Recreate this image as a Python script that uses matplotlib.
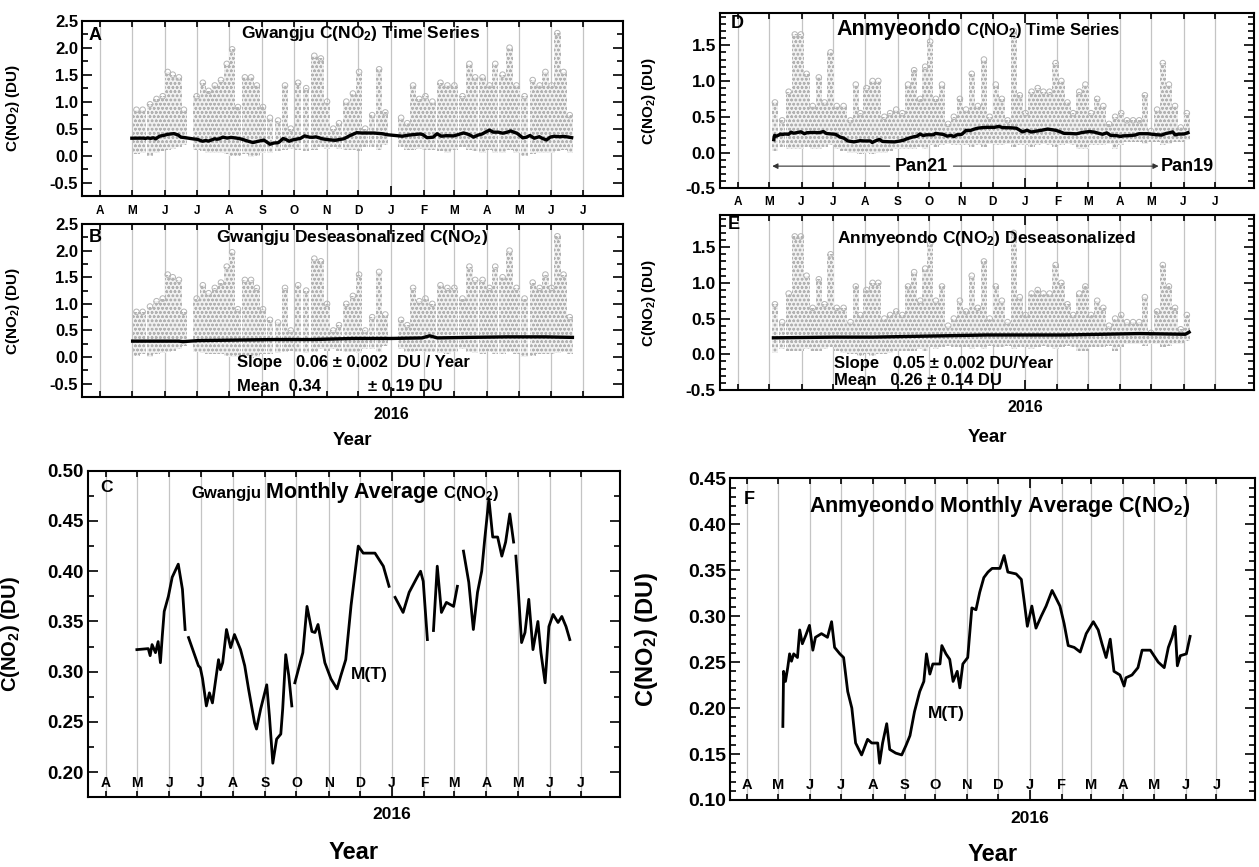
import datetime as dt

import numpy as np
import matplotlib
matplotlib.use('Agg')
import matplotlib.pyplot as plt
from matplotlib.ticker import MultipleLocator, FixedLocator, NullFormatter, FormatStrFormatter

plt.rcParams['font.family'] = ['Liberation Sans', 'DejaVu Sans']
plt.rcParams['font.weight'] = 'bold'
plt.rcParams['axes.unicode_minus'] = False
plt.rcParams['mathtext.fontset'] = 'custom'
plt.rcParams['mathtext.rm'] = 'Liberation Sans:bold'
plt.rcParams['mathtext.it'] = 'Liberation Sans:bold'
plt.rcParams['mathtext.bf'] = 'Liberation Sans:bold'
plt.rcParams['hatch.linewidth'] = 0.7

nan = np.nan

# ---- Gwangju monthly average M(T) (panel C, also the line in A) ----
gj_t = [2015.328, 2015.358, 2015.363, 2015.368, 2015.377, 2015.384, 2015.390, 2015.395,
        2015.400, 2015.411, 2015.421, 2015.437, 2015.448, 2015.455, 2015.460, 2015.464,
        2015.490, 2015.495, 2015.501, 2015.511, 2015.519, 2015.527, 2015.543, 2015.548,
        2015.554, 2015.564, 2015.575, 2015.585, 2015.601, 2015.612, 2015.622, 2015.638,
        2015.643, 2015.654, 2015.670, 2015.677, 2015.686, 2015.696, 2015.707, 2015.712,
        2015.720, 2015.728, 2015.736, 2015.740, 2015.744, 2015.765, 2015.776, 2015.789,
        2015.797, 2015.805, 2015.823, 2015.839, 2015.855, 2015.865, 2015.878, 2015.892,
        2015.911, 2015.924, 2015.955, 2015.977, 2015.992, 2016.000, 2016.008, 2016.029,
        2016.045, 2016.066, 2016.075, 2016.082, 2016.093, 2016.100, 2016.109, 2016.119,
        2016.130, 2016.143, 2016.162, 2016.172, 2016.180, 2016.188, 2016.202, 2016.214,
        2016.225, 2016.236, 2016.244, 2016.255, 2016.265, 2016.278, 2016.289, 2016.299,
        2016.310, 2016.320, 2016.323, 2016.326, 2016.331, 2016.341, 2016.350, 2016.360,
        2016.371, 2016.384, 2016.392, 2016.403, 2016.413, 2016.424, 2016.437, 2016.447,
        2016.458, 2016.468]
gj_m = [0.322, 0.323, 0.316, 0.327, 0.319, 0.330, 0.309, 0.336,
        0.360, 0.375, 0.394, 0.407, 0.382, 0.342, nan, 0.334,
        0.306, 0.304, 0.293, 0.266, 0.279, 0.269, 0.312, 0.302,
        0.309, 0.342, 0.324, 0.337, 0.322, 0.306, 0.283, 0.249,
        0.243, 0.263, 0.287, 0.256, 0.209, 0.233, 0.238, 0.263,
        0.317, 0.296, 0.266, nan, 0.289, 0.319, 0.365, 0.340,
        0.339, 0.347, 0.309, 0.293, 0.283, 0.296, 0.312, 0.366,
        0.425, 0.418, 0.418, 0.405, 0.385, nan, 0.374, 0.359,
        0.379, 0.394, 0.400, 0.390, 0.332, nan, 0.341, 0.405,
        0.359, 0.369, 0.365, 0.385, nan, 0.420, 0.389, 0.342,
        0.379, 0.400, 0.432, 0.472, 0.434, 0.434, 0.415, 0.429,
        0.457, 0.429, nan, 0.415, 0.389, 0.329, 0.339, 0.372,
        0.322, 0.350, 0.319, 0.289, 0.345, 0.357, 0.349, 0.355,
        0.345, 0.332]

# ---- Anmyeondo monthly average M(T) (panel F, also the line in D) ----
an_t = [2015.341, 2015.343, 2015.348, 2015.354, 2015.359, 2015.364, 2015.370, 2015.380,
        2015.386, 2015.393, 2015.402, 2015.412, 2015.421, 2015.428, 2015.444, 2015.460,
        2015.471, 2015.479, 2015.493, 2015.503, 2015.514, 2015.525, 2015.535, 2015.551,
        2015.567, 2015.578, 2015.594, 2015.599, 2015.607, 2015.618, 2015.626, 2015.642,
        2015.658, 2015.669, 2015.680, 2015.692, 2015.706, 2015.717, 2015.724, 2015.733,
        2015.741, 2015.749, 2015.760, 2015.765, 2015.776, 2015.786, 2015.795, 2015.806,
        2015.813, 2015.821, 2015.834, 2015.845, 2015.856, 2015.866, 2015.877, 2015.888,
        2015.899, 2015.920, 2015.931, 2015.941, 2015.963, 2015.977, 2015.984, 2015.993,
        2016.005, 2016.016, 2016.030, 2016.043, 2016.059, 2016.069, 2016.080, 2016.091,
        2016.102, 2016.118, 2016.134, 2016.150, 2016.169, 2016.182, 2016.192, 2016.203,
        2016.214, 2016.224, 2016.240, 2016.251, 2016.256, 2016.272, 2016.288, 2016.299,
        2016.321, 2016.342, 2016.358, 2016.369, 2016.379, 2016.387, 2016.393, 2016.401,
        2016.417, 2016.427]
an_m = [0.180, 0.240, 0.229, 0.244, 0.259, 0.251, 0.259, 0.255,
        0.285, 0.270, 0.279, 0.290, 0.263, 0.277, 0.281, 0.277,
        0.294, 0.266, 0.259, 0.255, 0.218, 0.200, 0.162, 0.149,
        0.166, 0.162, 0.162, 0.140, 0.162, 0.183, 0.155, 0.151,
        0.149, 0.159, 0.170, 0.196, 0.218, 0.229, 0.259, 0.237,
        0.248, 0.248, 0.248, 0.268, 0.259, 0.253, 0.229, 0.240,
        0.222, 0.248, 0.255, 0.309, 0.307, 0.326, 0.342, 0.348,
        0.352, 0.352, 0.366, 0.348, 0.346, 0.340, 0.318, 0.289,
        0.311, 0.287, 0.300, 0.311, 0.328, 0.320, 0.311, 0.292,
        0.268, 0.266, 0.261, 0.281, 0.294, 0.285, 0.270, 0.255,
        0.275, 0.240, 0.236, 0.224, 0.233, 0.236, 0.244, 0.263,
        0.263, 0.250, 0.244, 0.266, 0.277, 0.289, 0.246, 0.257,
        0.259, 0.278]

# ---- deseasonalized running lines (B, E) ----
gj_ds_t = [2015.33, 2015.45, 2015.46, 2015.50, 2015.60, 2015.70, 2015.80, 2015.90,
           2016.00, 2016.08, 2016.10, 2016.12, 2016.20, 2016.30, 2016.40, 2016.47]
gj_ds_v = [0.30, 0.30, 0.29, 0.31, 0.32, 0.33, 0.33, 0.35,
           0.35, 0.36, 0.40, 0.36, 0.37, 0.38, 0.38, 0.37]
an_ds_t = [2015.34, 2015.50, 2015.60, 2015.70, 2015.80, 2015.90, 2016.00,
           2016.10, 2016.20, 2016.30, 2016.42, 2016.43]
an_ds_v = [0.23, 0.24, 0.24, 0.25, 0.26, 0.27, 0.27,
           0.27, 0.28, 0.29, 0.28, 0.31]

# ---- observation clouds: column time, top and bottom of the grey points ----
gj_col_t = [2015.340, 2015.356, 2015.375, 2015.392, 2015.408, 2015.421, 2015.434, 2015.450,
            2015.463, 2015.496, 2015.512, 2015.527, 2015.543, 2015.559, 2015.574, 2015.588,
            2015.603, 2015.621, 2015.637, 2015.652, 2015.668, 2015.686, 2015.707, 2015.725,
            2015.740, 2015.759, 2015.780, 2015.801, 2015.818, 2015.834, 2015.850, 2015.865,
            2015.884, 2015.901, 2015.917, 2015.933, 2015.951, 2015.969, 2015.985, 2016.026,
            2016.042, 2016.057, 2016.073, 2016.089, 2016.107, 2016.128, 2016.146, 2016.164,
            2016.185, 2016.203, 2016.218, 2016.237, 2016.255, 2016.270, 2016.289, 2016.307,
            2016.325, 2016.346, 2016.367, 2016.385, 2016.400, 2016.416, 2016.431, 2016.447,
            2016.463]
gj_col_hi = [0.85, 0.85, 0.95, 1.05, 1.10, 1.55, 1.50, 1.45,
             0.85, 1.10, 1.35, 1.20, 1.30, 1.40, 1.70, 1.97,
             0.90, 1.45, 1.45, 1.30, 0.90, 0.70, 0.65, 1.30,
             0.50, 1.35, 1.25, 1.85, 1.80, 1.00, 0.50, 0.60,
             1.00, 1.15, 1.55, 0.50, 0.75, 1.60, 0.80, 0.70,
             0.60, 1.30, 1.05, 1.10, 1.00, 1.35, 1.30, 1.30,
             1.10, 1.70, 1.45, 1.45, 1.30, 1.70, 1.50, 2.00,
             1.30, 1.10, 1.40, 1.30, 1.55, 1.30, 2.27, 1.55,
             0.75]
gj_col_lo = [0.02, 0.05, 0.00, 0.05, 0.08, 0.10, 0.12, 0.15,
             0.20, 0.10, 0.08, 0.05, 0.05, 0.05, 0.02, 0.00,
             0.00, 0.02, -0.02, 0.00, 0.05, 0.05, 0.08, 0.10,
             0.12, 0.10, 0.08, 0.10, 0.15, 0.12, 0.15, 0.12,
             0.10, 0.10, 0.08, 0.15, 0.15, 0.10, 0.20, 0.15,
             0.10, 0.10, 0.12, 0.10, 0.10, 0.08, 0.05, 0.10,
             0.15, 0.10, 0.08, 0.05, 0.10, 0.05, 0.05, 0.10,
             0.05, 0.00, 0.02, 0.05, 0.05, 0.05, 0.08, 0.10,
             0.05]

an_col_t = [2015.344, 2015.363, 2015.380, 2015.396, 2015.412, 2015.427, 2015.443, 2015.459,
            2015.474, 2015.490, 2015.506, 2015.524, 2015.542, 2015.556, 2015.568, 2015.584,
            2015.600, 2015.615, 2015.631, 2015.646, 2015.662, 2015.678, 2015.693, 2015.709,
            2015.725, 2015.738, 2015.751, 2015.766, 2015.782, 2015.798, 2015.813, 2015.829,
            2015.845, 2015.860, 2015.876, 2015.892, 2015.907, 2015.923, 2015.939, 2015.954,
            2015.970, 2015.986, 2016.001, 2016.017, 2016.033, 2016.048, 2016.064, 2016.080,
            2016.095, 2016.111, 2016.126, 2016.142, 2016.158, 2016.173, 2016.189, 2016.205,
            2016.220, 2016.236, 2016.252, 2016.267, 2016.283, 2016.299, 2016.314, 2016.330,
            2016.346, 2016.361, 2016.377, 2016.393, 2016.408, 2016.424]
an_col_hi = [0.70, 0.45, 0.85, 1.65, 1.65, 1.10, 0.65, 1.05,
             0.70, 1.40, 0.65, 0.65, 0.45, 0.95, 0.55, 0.90,
             1.00, 1.00, 0.50, 0.55, 0.60, 0.55, 0.95, 1.15,
             0.75, 1.20, 1.55, 0.75, 0.95, 0.40, 0.50, 0.75,
             0.60, 1.10, 0.65, 1.30, 0.50, 0.95, 0.75, 0.45,
             1.70, 0.80, 0.55, 0.85, 0.90, 0.85, 0.85, 1.25,
             1.00, 0.70, 0.55, 0.85, 0.95, 0.55, 0.75, 0.65,
             0.40, 0.50, 0.55, 0.45, 0.45, 0.45, 0.80, 0.30,
             0.60, 1.25, 0.95, 0.65, 0.35, 0.55]
an_col_lo = [0.02, 0.08, 0.05, 0.05, 0.05, 0.08, 0.05, 0.05,
             0.08, 0.10, 0.05, 0.02, 0.00, 0.00, -0.02, 0.00,
             -0.02, 0.00, 0.00, 0.02, 0.05, 0.05, 0.05, 0.05,
             0.08, 0.05, 0.10, 0.08, 0.10, 0.12, 0.10, 0.10,
             0.10, 0.08, 0.10, 0.08, 0.12, 0.10, 0.10, 0.12,
             0.08, 0.10, 0.10, 0.08, 0.10, 0.12, 0.10, 0.08,
             0.10, 0.12, 0.10, 0.05, 0.05, 0.10, 0.10, 0.10,
             0.12, 0.05, 0.10, 0.15, 0.15, 0.15, 0.12, 0.15,
             0.15, 0.10, 0.12, 0.15, 0.15, 0.18]

month_letters = ['A', 'M', 'J', 'J', 'A', 'S', 'O', 'N', 'D', 'J', 'F', 'M', 'A', 'M', 'J', 'J']
months = [(2015, m) for m in range(4, 13)] + [(2016, m) for m in range(1, 8)]


def dec_year(y, m):
    d0 = dt.date(y, 1, 1)
    return y + (dt.date(y, m, 1) - d0).days / (dt.date(y + 1, 1, 1) - d0).days


month_pos = [dec_year(y, m) for y, m in months]
no2 = r'C(NO$_2$)'

fig = plt.figure(figsize=(12.59, 8.67), dpi=100)
renderer = fig.canvas.get_renderer()


def setup(ax, ylim, major, minor, fmt, ysize):
    ax.set_xlim(2015.2, 2016.6)
    ax.set_ylim(*ylim)
    for p in month_pos:
        ax.axvline(p, color='#c4c4c4', lw=0.9, zorder=0)
    ax.xaxis.set_major_locator(FixedLocator([2016.0]))
    ax.xaxis.set_minor_locator(FixedLocator(month_pos))
    ax.xaxis.set_major_formatter(NullFormatter())
    ax.yaxis.set_major_locator(MultipleLocator(major))
    ax.yaxis.set_minor_locator(MultipleLocator(minor))
    ax.yaxis.set_major_formatter(FormatStrFormatter(fmt))
    ax.tick_params(which='both', direction='in', top=True, right=True, width=1.2)
    ax.tick_params(which='major', length=7)
    ax.tick_params(which='minor', length=4)
    ax.tick_params(axis='y', labelsize=ysize, pad=3)
    for lab in ax.get_yticklabels():
        lab.set_fontweight('bold')
    for s in ax.spines.values():
        s.set_linewidth(1.5)


def month_row(ax, y, size):
    for p, l in zip(month_pos, month_letters):
        ax.text(p, y, l, transform=ax.get_xaxis_transform(), ha='center', va='center',
                fontsize=size, fontweight='bold')


def title_parts(ax, xc, y, parts, gap=5):
    texts = [ax.text(0, y, t, transform=ax.transAxes, fontsize=s, va='baseline', ha='left')
             for t, s in parts]
    widths = [t.get_window_extent(renderer).width for t in texts]
    bb = ax.get_window_extent(renderer)
    x0 = bb.x0 + xc * bb.width - (sum(widths) + gap * (len(texts) - 1)) / 2
    for t, w in zip(texts, widths):
        t.set_x((x0 - bb.x0) / bb.width)
        x0 += w + gap


def cloud(ax, t, lo, hi):
    # each column of grey open circles drawn as a circle-hatched strip
    t = np.asarray(t)
    lo = np.asarray(lo)
    hi = np.asarray(hi)
    ax.bar(t, hi - lo, bottom=lo, width=0.0165, color='#f1f1f1', edgecolor='#b2b2b2',
           hatch='oooo', linewidth=0, zorder=1)
    ax.scatter(t, hi, s=16, facecolors='none', edgecolors='#b4b4b4', lw=0.7, zorder=2)


gj_t_a = np.array(gj_t)
gj_m_a = np.array(gj_m)
ok = ~np.isnan(gj_m_a)

# ---------------- A ----------------
axA = fig.add_axes([0.0655, 0.7739, 0.429, 0.2022])
setup(axA, (-0.75, 2.5), 0.5, 0.25, '%.1f', 12)
cloud(axA, gj_col_t, gj_col_lo, gj_col_hi)
axA.plot(gj_t_a[ok], gj_m_a[ok], color='black', lw=2.4, zorder=3)
month_row(axA, -0.085, 8.5)
axA.text(0.023, 0.915, 'A', transform=axA.transAxes, fontsize=13, ha='center', va='center')
title_parts(axA, 0.515, 0.90, [('Gwangju ' + no2 + ' Time Series', 12.5)])
axA.set_ylabel(r'C(NO$_2$) (DU)', fontsize=11, fontweight='bold')
axA.yaxis.set_label_coords(-0.112, 0.5)

# ---------------- B ----------------
axB = fig.add_axes([0.0655, 0.5421, 0.429, 0.1995])
setup(axB, (-0.75, 2.5), 0.5, 0.25, '%.1f', 12)
cloud(axB, gj_col_t, gj_col_lo, gj_col_hi)
axB.plot(gj_ds_t, gj_ds_v, color='black', lw=2.4, zorder=3)
axB.text(0.023, 0.925, 'B', transform=axB.transAxes, fontsize=13, ha='center', va='center')
title_parts(axB, 0.50, 0.895, [('Gwangju Deseasonalized ' + no2, 12.5)])
axB.text(2015.60, -0.11, 'Slope   0.06 \u00b1 0.002  DU / Year', fontsize=12, va='center')
axB.text(2015.60, -0.55, 'Mean  0.34', fontsize=12, va='center')
axB.text(2015.94, -0.55, '\u00b1 0.19 DU', fontsize=12, va='center')
axB.text(2016.0, -0.104, '2016', transform=axB.get_xaxis_transform(), ha='center', va='center',
         fontsize=11.5)
axB.text(0.5, -0.254, 'Year', transform=axB.transAxes, ha='center', va='center', fontsize=13.5)
axB.set_ylabel(r'C(NO$_2$) (DU)', fontsize=11, fontweight='bold')
axB.yaxis.set_label_coords(-0.112, 0.5)

# ---------------- C ----------------
axC = fig.add_axes([0.0701, 0.0811, 0.4223, 0.376])
setup(axC, (0.1757, 0.5), 0.05, 0.025, '%.2f', 13.5)
axC.plot(gj_t, gj_m, color='black', lw=2.0, zorder=3)
month_row(axC, 0.041, 10)
axC.text(0.035, 0.947, 'C', transform=axC.transAxes, fontsize=12.5, ha='center', va='center')
title_parts(axC, 0.484, 0.915, [('Gwangju', 12), ('Monthly Average', 15.5), (no2, 12)])
axC.text(2015.892, 0.297, 'M(T)', fontsize=12.5, va='center')
axC.text(2016.0, -0.056, '2016', transform=axC.get_xaxis_transform(), ha='center', va='center',
         fontsize=12.5)
axC.text(0.5, -0.172, 'Year', transform=axC.transAxes, ha='center', va='center', fontsize=17)
axC.set_ylabel(r'C(NO$_2$) (DU)', fontsize=14.5, fontweight='bold')
axC.yaxis.set_label_coords(-0.125, 0.5)

# ---------------- D ----------------
axD = fig.add_axes([0.5719, 0.7828, 0.4241, 0.2022])
setup(axD, (-0.5, 1.95), 0.5, 0.1, '%.1f', 12.5)
cloud(axD, an_col_t, an_col_lo, an_col_hi)
axD.plot(an_t, an_m, color='black', lw=2.4, zorder=3)
month_row(axD, -0.08, 8.5)
axD.text(0.032, 0.94, 'D', transform=axD.transAxes, fontsize=13, ha='center', va='center')
title_parts(axD, 0.484, 0.875, [('Anmyeondo', 15.5), (no2 + ' Time Series', 12)])
arrow = dict(arrowstyle='-|>', color='#333333', lw=0.8, mutation_scale=8, shrinkA=0, shrinkB=0)
axD.annotate('', xy=(2015.337, -0.19), xytext=(2015.645, -0.19), arrowprops=arrow)
axD.annotate('', xy=(2016.350, -0.19), xytext=(2015.812, -0.19), arrowprops=arrow)
axD.text(2015.728, -0.19, 'Pan21', ha='center', va='center', fontsize=13)
axD.text(2016.356, -0.19, 'Pan19', ha='left', va='center', fontsize=13)
axD.set_ylabel(r'C(NO$_2$) (DU)', fontsize=11, fontweight='bold')
axD.yaxis.set_label_coords(-0.116, 0.5)

# ---------------- E ----------------
axE = fig.add_axes([0.5719, 0.5502, 0.4241, 0.2018])
setup(axE, (-0.5, 1.95), 0.5, 0.1, '%.1f', 12.5)
cloud(axE, an_col_t, an_col_lo, an_col_hi)
axE.plot(an_ds_t, an_ds_v, color='black', lw=2.4, zorder=3)
axE.text(0.025, 0.943, 'E', transform=axE.transAxes, fontsize=13, ha='center', va='center')
title_parts(axE, 0.499, 0.84, [('Anmyeondo ' + no2 + ' Deseasonalized', 12.5)])
axE.text(2015.50, -0.13, 'Slope   0.05 \u00b1 0.002 DU/Year', fontsize=12, va='center')
axE.text(2015.50, -0.37, 'Mean   0.26 \u00b1 0.14 DU', fontsize=12, va='center')
axE.text(2016.0, -0.103, '2016', transform=axE.get_xaxis_transform(), ha='center', va='center',
         fontsize=11.5)
axE.text(0.5, -0.274, 'Year', transform=axE.transAxes, ha='center', va='center', fontsize=13.5)
axE.set_ylabel(r'C(NO$_2$) (DU)', fontsize=11, fontweight='bold')
axE.yaxis.set_label_coords(-0.116, 0.5)

# ---------------- F ----------------
axF = fig.add_axes([0.5798, 0.0773, 0.417, 0.371])
setup(axF, (0.10, 0.45), 0.05, 0.01, '%.2f', 14)
axF.plot(an_t, an_m, color='black', lw=2.0, zorder=3)
month_row(axF, 0.046, 10.5)
axF.text(0.036, 0.933, 'F', transform=axF.transAxes, fontsize=13, ha='center', va='center')
title_parts(axF, 0.514, 0.895, [('Anmyeondo Monthly Average ' + no2, 15.5)])
axF.text(2015.728, 0.194, 'M(T)', fontsize=12.5, va='center')
axF.text(2016.0, -0.059, '2016', transform=axF.get_xaxis_transform(), ha='center', va='center',
         fontsize=12.5)
axF.text(0.5, -0.171, 'Year', transform=axF.transAxes, ha='center', va='center', fontsize=17)
axF.set_ylabel(r'C(NO$_2$) (DU)', fontsize=17, fontweight='bold')
axF.yaxis.set_label_coords(-0.133, 0.5)

fig.savefig('out.png', dpi=100)
